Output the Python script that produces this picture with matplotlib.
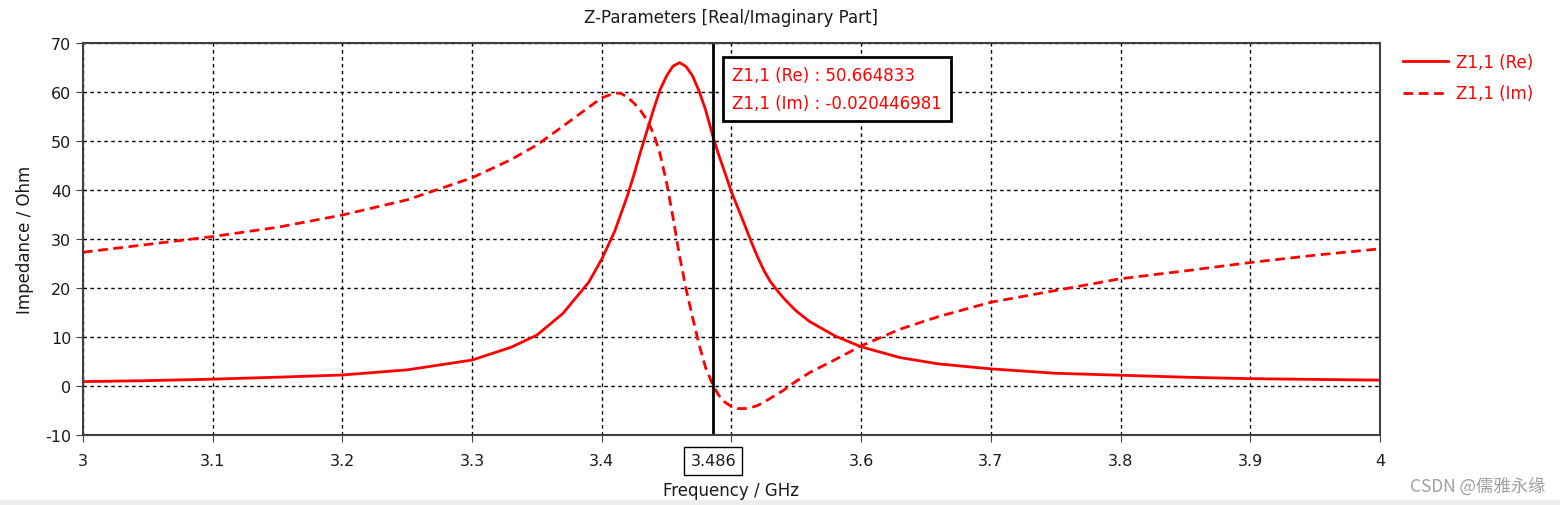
import matplotlib.pyplot as plt
from matplotlib.patches import Rectangle

# данные
freq = [3.0, 3.05, 3.1, 3.15, 3.2, 3.25, 3.3, 3.33, 3.35, 3.37, 3.39, 3.4, 3.41,
        3.415, 3.42, 3.425, 3.43, 3.435, 3.44, 3.445, 3.45, 3.455, 3.46, 3.465,
        3.47, 3.475, 3.48, 3.486, 3.49, 3.495, 3.5, 3.505, 3.51, 3.515, 3.52,
        3.525, 3.53, 3.535, 3.54, 3.545, 3.55, 3.56, 3.58, 3.6, 3.63, 3.66, 3.7,
        3.75, 3.8, 3.85, 3.9, 3.95, 4.0]
z_re = [0.9, 1.1, 1.4, 1.8, 2.25, 3.3, 5.3, 7.9, 10.4, 14.8, 21.2, 25.9, 31.6,
        35.3, 39.0, 43.3, 47.9, 52.2, 56.5, 60.5, 63.3, 65.3, 66.0, 65.2,
        63.3, 60.2, 56.4, 50.66, 47.3, 43.5, 39.6, 36.3, 33.0, 29.6, 26.4,
        23.6, 21.3, 19.6, 18.0, 16.6, 15.3, 13.2, 10.2, 8.0, 5.8, 4.5, 3.5,
        2.6, 2.2, 1.8, 1.5, 1.35, 1.2]
z_im = [27.3, 28.9, 30.5, 32.4, 34.9, 38.0, 42.5, 46.2, 49.2, 53.0, 56.9, 58.8, 59.8,
        59.7, 58.9, 57.7, 56.2, 54.2, 51.5, 47.3, 41.5, 34.3, 26.5, 19.8,
        14.0, 8.5, 3.8, 0.0, -1.8, -3.3, -4.2, -4.6, -4.6, -4.4, -4.0,
        -3.3, -2.5, -1.7, -0.9, 0.1, 1.0, 2.7, 5.4, 8.2, 11.6, 14.2, 17.1,
        19.5, 21.9, 23.5, 25.2, 26.7, 28.0]

x_ticks = [3.0, 3.1, 3.2, 3.3, 3.4, 3.5, 3.6, 3.7, 3.8, 3.9, 4.0]
x_labels = ['3', '3.1', '3.2', '3.3', '3.4', '', '3.6', '3.7', '3.8', '3.9', '4']
y_ticks = [-10, 0, 10, 20, 30, 40, 50, 60, 70]

marker_f = 3.486
marker_re = '50.664833'
marker_im = '-0.020446981'

plt.rcParams['font.family'] = ['DejaVu Sans']
plt.rcParams['axes.unicode_minus'] = False
fig = plt.figure(figsize=(15.6, 5.06), dpi=100)
ax = fig.add_axes([0.0532, 0.1383, 0.8314, 0.7747])

red = '#ff0000'
ax.plot(freq, z_re, color=red, lw=2, label='Z1,1 (Re)')
ax.plot(freq, z_im, color=red, lw=2, dashes=(3.5, 2), label='Z1,1 (Im)')

# маркер
ax.axvline(marker_f, color='black', lw=2)

ax.set_xlim(3, 4)
ax.set_ylim(-10, 70)
ax.set_xticks(x_ticks)
ax.set_xticklabels(x_labels)
ax.set_yticks(y_ticks)
ax.grid(True, color='black', lw=1, linestyle=(0, (2.5, 2.5)))
ax.tick_params(labelsize=11.5, length=5, color='#404040', labelcolor='#1a1a1a')
ax.tick_params(axis='x', pad=8)
for s in ax.spines.values():
    s.set_color('#404040')
    s.set_linewidth(1.5)

ax.set_title('Z-Parameters [Real/Imaginary Part]', fontsize=12, color='#1a1a1a', pad=15)
ax.set_xlabel('Frequency / GHz', fontsize=12, color='#1a1a1a', labelpad=9)
ax.set_ylabel('Impedance / Ohm', fontsize=12, color='#1a1a1a', labelpad=8)

ax.text(marker_f, -15.3, '3.486', fontsize=11.5,
        ha='center', va='center', color='#1a1a1a',
        bbox=dict(boxstyle='square,pad=0.38', fc='white', ec='black', lw=1))

ax.text(3.5005, 60.6, 'Z1,1 (Re) : ' + marker_re + '\nZ1,1 (Im) : ' + marker_im,
        fontsize=12, color=red, ha='left', va='center', linespacing=1.75,
        bbox=dict(boxstyle='square,pad=0.52', fc='white', ec='black', lw=2))

ax.legend(loc='upper left', bbox_to_anchor=(1.01, 1.0), frameon=False,
          fontsize=12, labelcolor=red, handlelength=2.7, handletextpad=0.5,
          labelspacing=0.8, borderaxespad=0.2)

# серая полоса внизу и водяной знак
fig.patches.append(Rectangle((0, 0), 1, 5 / 506, transform=fig.transFigure,
                             fc='#eeeeee', ec='none'))
fig.text(0.991, 0.038, 'CSDN @儒雅永缘', fontsize=12.5, color='#a0a0a0', ha='right',
         va='center', family=['Noto Sans CJK SC', 'DejaVu Sans'])

fig.savefig('out.png', dpi=100)
